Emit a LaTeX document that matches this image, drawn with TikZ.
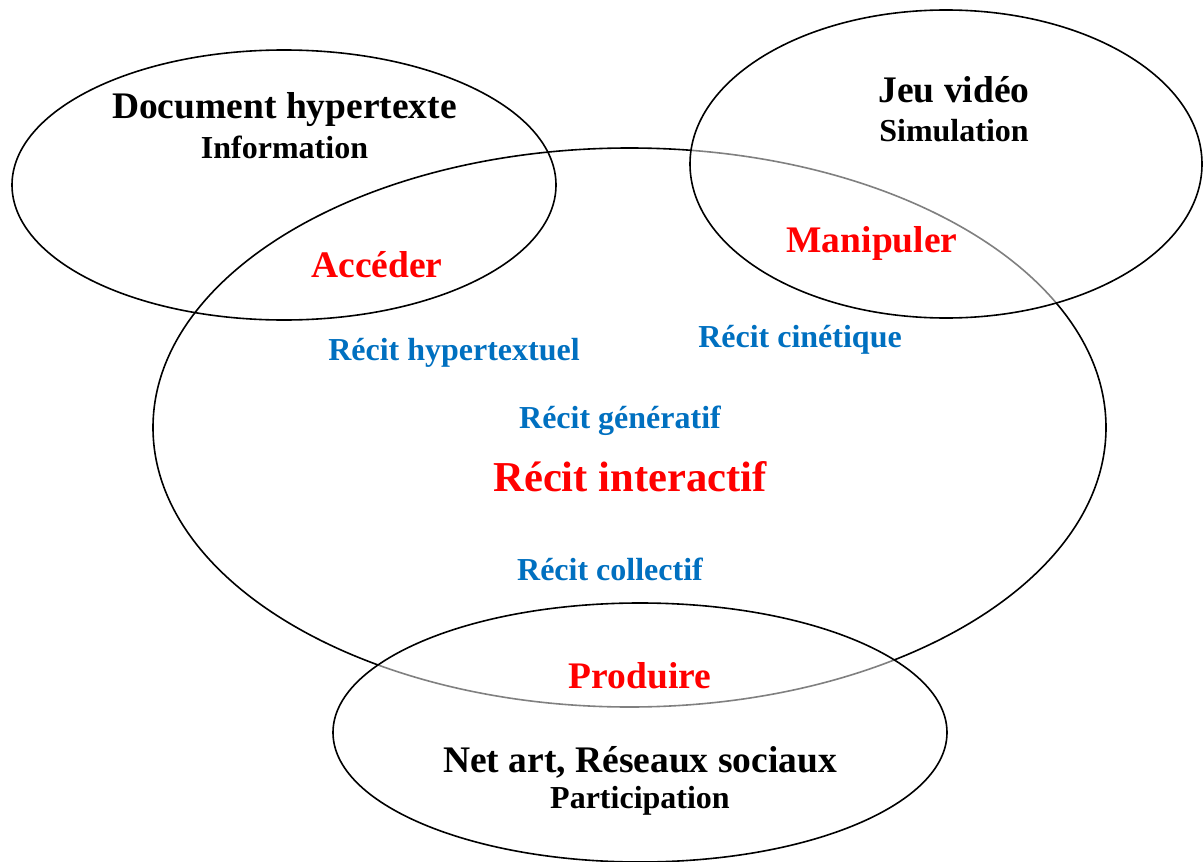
\documentclass[tikz,border=0pt]{standalone}
\usepackage{fontspec}
\setmainfont{Liberation Serif}
\definecolor{verbred}{RGB}{255,0,0}
\definecolor{recitblue}{RGB}{0,112,192}
\tikzset{
  ell/.style={draw=black, line width=1.6pt},
  overell/.style={ell, fill=white, fill opacity=0.5, draw opacity=1},
  big/.style={font=\bfseries\fontsize{37.5}{37.5}\selectfont, anchor=base, inner sep=0pt},
  small/.style={font=\bfseries\fontsize{32}{32}\selectfont, anchor=base, inner sep=0pt},
  verb/.style={big, text=verbred},
  recit/.style={small, text=recitblue},
  title/.style={font=\bfseries\fontsize{42.6}{42.6}\selectfont, anchor=base, inner sep=0pt, text=verbred},
}
\begin{document}
\begin{tikzpicture}[x=1pt,y=-1pt]
\useasboundingbox (0,0) rectangle (1203,862);
\fill[white] (0,0) rectangle (1203,862);
% ellipses
\draw[ell] (284,185) ellipse [x radius=272pt, y radius=135pt];
\draw[ell] (629.5,427.5) ellipse [x radius=476.5pt, y radius=279.5pt];
\draw[overell] (946,164) ellipse [x radius=256pt, y radius=154pt];
\draw[overell] (640,732.5) ellipse [x radius=307pt, y radius=129.5pt];
% texts
\node[big] (doc) at (284.5,118) {Document hypertexte};
\node[small] (info) at (284.5,158) {Information};
\node[verb] (acc) at (377,277) {Accéder};
\node[big] (jeu) at (954,102) {Jeu vidéo};
\node[small] (sim) at (954,141) {Simulation};
\node[verb] (man) at (872,252) {Manipuler};
\node[recit] (rh) at (454,360) {Récit hypertextuel};
\node[recit] (rc) at (800,347) {Récit cinétique};
\node[recit] (rg) at (620,428) {Récit génératif};
\node[title] (ri) at (630,491) {Récit interactif};
\node[recit] (rcol) at (610,580) {Récit collectif};
\node[verb] (prod) at (640,688) {Produire};
\node[big] (net) at (640,772) {Net art, Réseaux sociaux};
\node[small] (part) at (640,808) {Participation};
\end{tikzpicture}
\end{document}
